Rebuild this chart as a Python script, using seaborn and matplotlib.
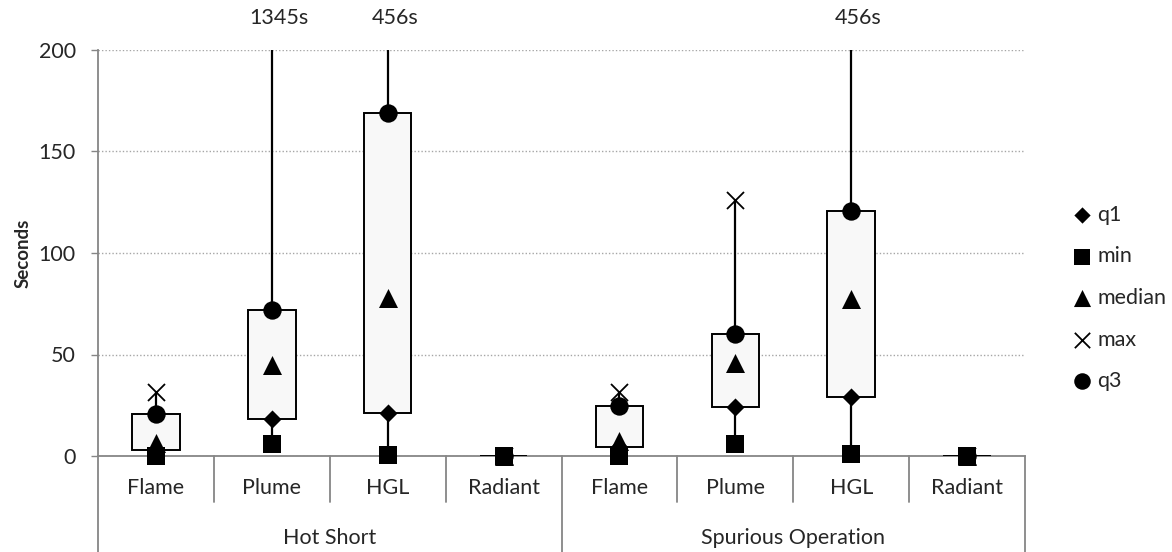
import pandas as pd
import numpy as np
import matplotlib
matplotlib.use("Agg")
import matplotlib.pyplot as plt
import matplotlib.transforms as mtransforms
import seaborn as sns

# values (seconds)
groups = ["Hot Short", "Spurious Operation"]
sources = ["Flame", "Plume", "HGL", "Radiant"]
q1 = [3, 18, 21, 0, 4.5, 24, 29, 0]
mins = [0, 6, 0.5, 0, 0, 6, 1, 0]
median = [6.5, 45, 78, 0, 7.5, 46, 77.5, 0]
maxs = [31.5, 1345, 456, 0, 31.5, 126, 456, 0]
q3 = [20.5, 72, 169, 0, 24.5, 60, 120.5, 0]

YMAX = 200

sns.set_theme(style="white")
plt.rcParams['font.family'] = ['Lato', 'DejaVu Sans']

pos = np.arange(len(q1))
df = pd.DataFrame({"pos": pos, "q1": q1, "min": mins, "median": median,
                   "max": maxs, "q3": q3})
long = df.melt(id_vars="pos", var_name="stat", value_name="value")
# points above the axis limit are not drawn (labelled at the top instead)
long = long[long["value"] <= YMAX]

fig = plt.figure(figsize=(11.72, 5.52), dpi=100)
ax = fig.add_axes([98/1172, 1-456/552, (1025-98)/1172, 406/552])

ax.set_axisbelow(True)
ax.yaxis.grid(True, linestyle=(0, (1, 1.5)), color="#a6a6a6", lw=1)

# high-low lines
ax.vlines(df["pos"], df["min"], df["max"], color="black", lw=1.6, zorder=2)
# q1..q3 boxes
ax.bar(df["pos"], df["q3"] - df["q1"], bottom=df["q1"], width=0.41,
       color="#f8f8f8", edgecolor="black", linewidth=1.4, zorder=3)

markers = {"q1": ("D", 85), "min": ("s", 169), "median": ("^", 187),
           "max": ("x", 150), "q3": ("o", 175)}
for k, (stat, (m, sz)) in enumerate(markers.items()):
    sub = long[long["stat"] == stat]
    if m == "x":
        sns.scatterplot(data=sub, x="pos", y="value", marker=m, s=sz,
                        color="black", linewidth=1.3, label=stat, ax=ax,
                        zorder=4 + k, clip_on=False)
    else:
        sns.scatterplot(data=sub, x="pos", y="value", marker=m, s=sz,
                        color="black", edgecolor="black", linewidth=0,
                        label=stat, ax=ax, zorder=4 + k, clip_on=False)

# labels for off-scale maxima
for x, v in zip(pos, maxs):
    if v > YMAX:
        ax.annotate(f"{int(v)}s", xy=(x + 0.06, YMAX), xytext=(0, 23),
                    textcoords="offset points", ha="center", va="center",
                    fontsize=15.5, annotation_clip=False)

ax.set_ylim(0, YMAX)
ax.set_xlim(-0.5, len(q1) - 0.5)
ax.set_yticks([0, 50, 100, 150, 200])
ax.tick_params(axis="y", left=True, direction="out", length=5, width=1,
               color="#868686", labelsize=15.5, pad=11)
ax.set_xticks([])
ax.set_xlabel("")
ax.set_ylabel("Seconds", fontsize=13.5, fontweight="bold", labelpad=5)
for s in ["top", "right"]:
    ax.spines[s].set_visible(False)
for s in ["left", "bottom"]:
    ax.spines[s].set_color("#868686")
    ax.spines[s].set_linewidth(1.3)

# two-level category axis
trans = mtransforms.blended_transform_factory(ax.transData, ax.transAxes)
cats = sources * len(groups)
for x, c in zip(pos, cats):
    ax.text(x, -0.079, c, transform=trans, ha="center", va="center", fontsize=15.5)
n = len(sources)
for g, name in enumerate(groups):
    ax.text(g * n + (n - 1) / 2, -0.202, name, transform=trans,
            ha="center", va="center", fontsize=15.5)
for b in np.arange(-0.5, len(q1), 1.0):
    full = (b + 0.5) % n == 0
    ax.plot([b, b], [0, -0.236 if full else -0.113], transform=trans,
            color="#868686", lw=1.3, clip_on=False)

h, l = ax.get_legend_handles_labels()
ax.legend(h, l, loc="center left", bbox_to_anchor=(1064/1172, 1-298/552),
          bbox_transform=fig.transFigure, frameon=False, fontsize=15.5,
          labelspacing=1.0, handlelength=0.7, handletextpad=0.35,
          markerscale=0.9, borderpad=0)

fig.savefig("out.png", dpi=100)
